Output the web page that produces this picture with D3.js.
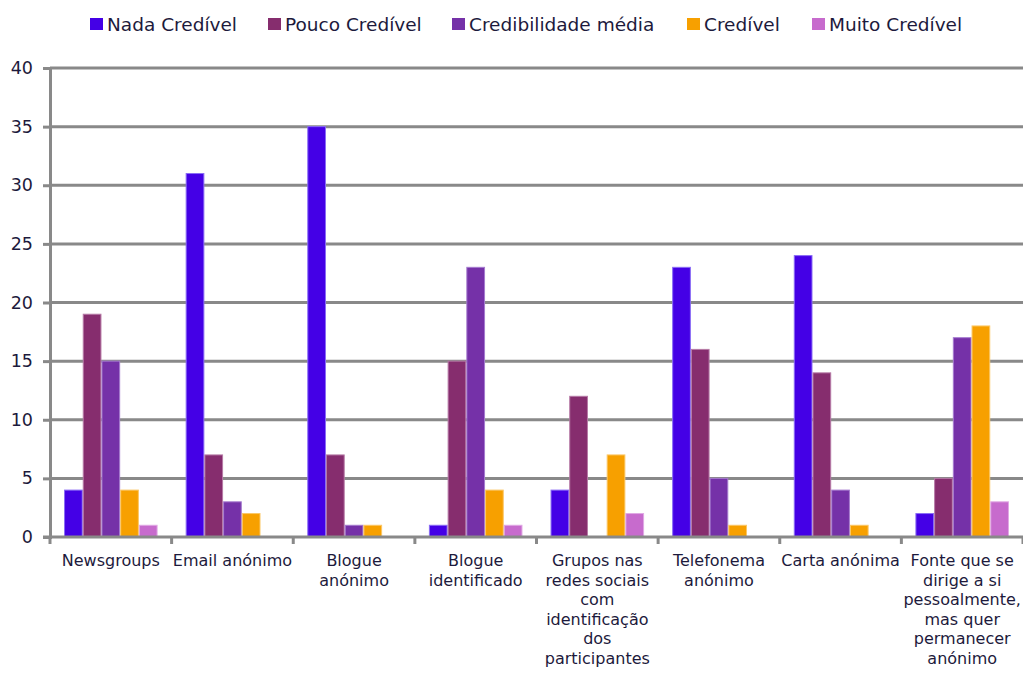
<!DOCTYPE html>
<html>
<head>
<meta charset="utf-8">
<script src="https://cdn.jsdelivr.net/npm/d3@7"></script>
<style>
  html, body { margin: 0; padding: 0; background: #fff; }
  svg { display: block; }
  text { font-family: "DejaVu Sans", Verdana, sans-serif; fill: #1d1a3c; }
</style>
</head>
<body>
<svg id="chart" width="1023" height="675"></svg>
<script>
// Categories (line breaks mark how each label wraps under the axis)
const categories = [
  "Newsgroups",
  "Email anónimo",
  "Blogue\nanónimo",
  "Blogue\nidentificado",
  "Grupos nas\nredes sociais\ncom\nidentificação\ndos\nparticipantes",
  "Telefonema\nanónimo",
  "Carta anónima",
  "Fonte que se\ndirige a si\npessoalmente,\nmas quer\npermanecer\nanónimo"
];

const seriesNames = ["Nada Credível", "Pouco Credível", "Credibilidade média", "Credível", "Muito Credível"];

const nadaCredivel        = [4, 31, 35, 1, 4, 23, 24, 2];
const poucoCredivel       = [19, 7, 7, 15, 12, 16, 14, 5];
const credibilidadeMedia  = [15, 3, 1, 23, 0, 5, 4, 17];
const credivel            = [4, 2, 1, 4, 7, 1, 1, 18];
const muitoCredivel       = [1, 0, 0, 1, 2, 0, 0, 3];

const yTicks = [0, 5, 10, 15, 20, 25, 30, 35, 40];

const seriesValues = [nadaCredivel, poucoCredivel, credibilidadeMedia, credivel, muitoCredivel];
const colors  = ["#4400e6", "#862d6e", "#7531a8", "#f7a000", "#c76bcd"];
const borders = ["#8a6cf5", "#b67aa6", "#a57bcf", "#fbc766", "#e0a8e4"];

const svg = d3.select("#chart");
const margin = { left: 50, right: 0, top: 68, bottom: 138 };
const W = 1023, H = 675;
const plotW = W - margin.left - margin.right;
const plotH = H - margin.top - margin.bottom;

const g = svg.append("g").attr("transform", `translate(${margin.left},${margin.top})`);

const x0 = d3.scaleBand().domain(d3.range(categories.length)).range([0, plotW]).paddingInner(0).paddingOuter(0);
const groupPad = x0.bandwidth() * 1.5 / 6.5 / 2;
const x1 = d3.scaleBand().domain(d3.range(seriesNames.length))
  .range([groupPad, x0.bandwidth() - groupPad]).padding(0);
const y = d3.scaleLinear().domain([0, 40]).range([plotH, 0]);

// Horizontal gridlines
g.append("g").selectAll("line").data(yTicks.filter(t => t > 0)).join("line")
  .attr("x1", 0).attr("x2", plotW)
  .attr("y1", d => y(d)).attr("y2", d => y(d))
  .attr("stroke", "#898989").attr("stroke-width", 3);

// Left axis: line, ticks and labels
const yAxis = d3.axisLeft(y).tickValues(yTicks).tickSize(7).tickPadding(10);
const ya = g.append("g").call(yAxis);
ya.select(".domain").attr("stroke", "#898989").attr("stroke-width", 3);
ya.selectAll(".tick line").attr("stroke", "#898989").attr("stroke-width", 3);
ya.selectAll(".tick text").style("font-size", "17.5px").attr("fill", "#1d1a3c")
  .style("font-family", '"DejaVu Sans", Verdana, sans-serif');

// Bars
const groups = g.append("g").selectAll("g").data(categories).join("g")
  .attr("transform", (d, i) => `translate(${x0(i)},0)`);
groups.selectAll("rect")
  .data((d, i) => seriesValues.map((vals, s) => ({ s, v: vals[i] })).filter(d => d.v > 0))
  .join("rect")
  .attr("x", d => x1(d.s) + 0.5)
  .attr("width", x1.bandwidth() - 1)
  .attr("y", d => y(d.v))
  .attr("height", d => y(0) - y(d.v))
  .attr("fill", d => colors[d.s])
  .attr("stroke", d => borders[d.s])
  .attr("stroke-width", 1);

// Bottom axis line and category separators
g.append("line").attr("x1", -7).attr("x2", plotW).attr("y1", plotH).attr("y2", plotH)
  .attr("stroke", "#898989").attr("stroke-width", 3);
g.append("g").selectAll("line").data(d3.range(categories.length + 1)).join("line")
  .attr("x1", i => i * x0.bandwidth()).attr("x2", i => i * x0.bandwidth())
  .attr("y1", plotH).attr("y2", plotH + 7)
  .attr("stroke", "#898989").attr("stroke-width", 3);

// Category labels
const labels = g.append("g").selectAll("text").data(categories).join("text")
  .attr("text-anchor", "middle")
  .style("font-size", "16px")
  .attr("transform", (d, i) => `translate(${x0(i) + x0.bandwidth() / 2},${plotH + 29})`);
labels.selectAll("tspan").data(d => d.split("\n")).join("tspan")
  .attr("x", 0).attr("dy", (d, i) => i === 0 ? 0 : 19.6).text(d => d);

// Legend
const legendX = [90, 268, 452, 687, 812];
const legend = svg.append("g").selectAll("g").data(seriesNames).join("g")
  .attr("transform", (d, i) => `translate(${legendX[i]},0)`);
legend.append("rect").attr("x", 0).attr("y", 18).attr("width", 13).attr("height", 12)
  .attr("fill", (d, i) => colors[i]);
legend.append("text").attr("x", 17).attr("y", 31).style("font-size", "18.5px").text(d => d);
</script>
</body>
</html>
